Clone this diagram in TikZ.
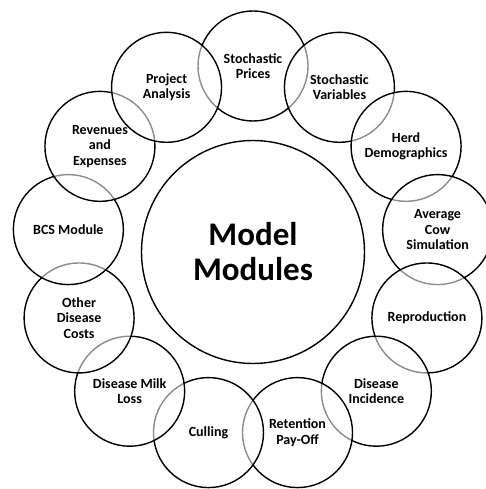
\documentclass[tikz,border=0pt]{standalone}
\usepackage{fontspec}
\setmainfont{Carlito}
\begin{document}
\begin{tikzpicture}[x=1pt,y=1pt,
    module/.style={circle,draw=black,line width=1.4pt,fill=white,fill opacity=0.55,text opacity=1,
      minimum size=110pt,inner sep=0pt,align=center,font=\fontsize{14}{15.6}\selectfont\bfseries},
    hub/.style={circle,draw=black,line width=1.4pt,minimum size=223pt,inner sep=0pt,align=center,
      font=\fontsize{33}{35}\selectfont\bfseries}]
  \useasboundingbox (-253,-237) rectangle (233,252);
  \node[hub] (core) at (0,0) {Model\\Modules};
  % ring of modules, clockwise from the top
  \foreach \txt [count=\i] in {Stochastic\\Prices,Stochastic\\Variables,Herd\\Demographics,
      Average\\Cow\\Simulation,Reproduction,Disease\\Incidence,Retention\\Pay-Off,Culling,
      Disease Milk\\Loss,Other\\Disease\\Costs,BCS Module,Revenues\\and\\Expenses,Project\\Analysis}
    \node[module] (m\i) at ({90-(\i-1)*360/13}:186) {\txt};
\end{tikzpicture}
\end{document}
